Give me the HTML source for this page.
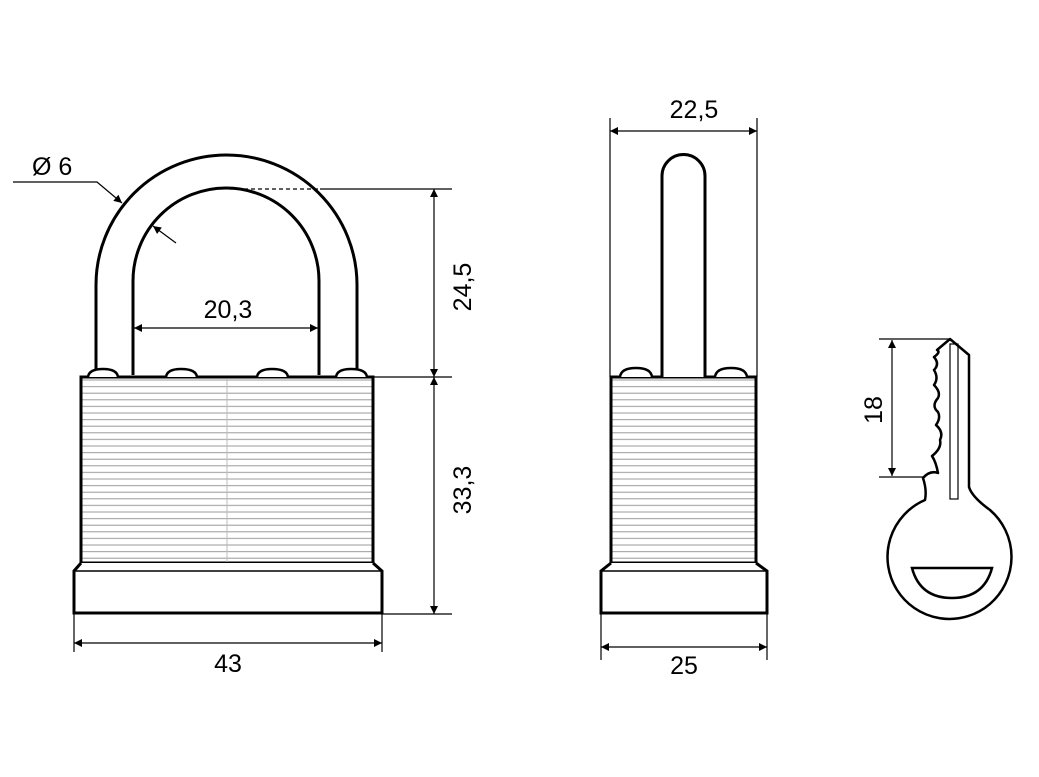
<!DOCTYPE html>
<html><head><meta charset="utf-8"><style>
html,body{margin:0;padding:0;background:#fff;}
svg{display:block}
text{font-family:"Liberation Sans",Arial,sans-serif;font-size:25px;fill:#000}
</style></head><body>
<svg width="1039" height="777" viewBox="0 0 1039 777" xmlns="http://www.w3.org/2000/svg">
<defs>
<pattern id="str" x="0" y="377" width="10" height="6.6" patternUnits="userSpaceOnUse">
<rect width="10" height="6.6" fill="#fff"/>
<line x1="0" y1="3" x2="10" y2="3" stroke="#9a9a9a" stroke-width="1"/>
</pattern>
<marker id="a" viewBox="0 0 10 10" refX="10" refY="5" markerWidth="12" markerHeight="8" markerUnits="userSpaceOnUse" orient="auto-start-reverse">
<path d="M0,0 L10,5 L0,10 z" fill="#000"/>
</marker>
</defs>

<rect x="81" y="377" width="292" height="186" fill="url(#str)" stroke="#000" stroke-width="3"/>
<line x1="227" y1="379" x2="227" y2="562" stroke="#bbb" stroke-width="1"/>
<path d="M81,563 L74,571 L74,613 L382,613 L382,571 L373,563" fill="#fff" stroke="#000" stroke-width="3"/>
<line x1="74" y1="571" x2="382" y2="571" stroke="#000" stroke-width="1.5"/>
<path d="M96,375 L96,285 A130.5,130 0 0 1 357,285 L357,375" fill="none" stroke="#000" stroke-width="3"/>
<path d="M133,375 L133,281 A93,93 0 0 1 319,281 L319,375" fill="none" stroke="#000" stroke-width="3"/>
<g fill="#fff" stroke="#000" stroke-width="2.5">
<path d="M88,377 Q89,369 103,369 Q117,369 118,377"/>
<path d="M166,377 Q167,369 181,369 Q196,369 197,377"/>
<path d="M257,377 Q258,369 272,369 Q287,369 288,377"/>
<path d="M336,377 Q337,369 351,369 Q366,369 367,377"/>
</g>
<g stroke="#000" stroke-width="1.2" fill="none">
<line x1="230" y1="189" x2="320" y2="189" stroke-dasharray="4,3"/>
<line x1="320" y1="189" x2="452" y2="189"/>
<line x1="373" y1="377" x2="452" y2="377"/>
<line x1="382" y1="614" x2="452" y2="614"/>
<line x1="434" y1="189" x2="434" y2="377" marker-start="url(#a)" marker-end="url(#a)"/>
<line x1="434" y1="377" x2="434" y2="614" marker-start="url(#a)" marker-end="url(#a)"/>
<line x1="74" y1="614" x2="74" y2="652"/>
<line x1="382" y1="614" x2="382" y2="652"/>
<line x1="74" y1="643" x2="382" y2="643" marker-start="url(#a)" marker-end="url(#a)"/>
<line x1="134" y1="328" x2="318" y2="328" marker-start="url(#a)" marker-end="url(#a)"/>
<polyline points="13,182 97,182 122,203" marker-end="url(#a)"/>
<line x1="176" y1="243" x2="153" y2="226" marker-end="url(#a)"/>
</g>
<text x="228" y="318" text-anchor="middle">20,3</text>
<text x="228" y="672" text-anchor="middle">43</text>
<text x="32" y="175">Ø 6</text>
<text transform="translate(471,287) rotate(-90)" text-anchor="middle">24,5</text>
<text transform="translate(471,490) rotate(-90)" text-anchor="middle">33,3</text>

<rect x="611" y="377" width="145" height="186" fill="url(#str)" stroke="#000" stroke-width="3"/>
<path d="M611,563 L601,571 L601,613 L767,613 L767,571 L756,563" fill="#fff" stroke="#000" stroke-width="3"/>
<line x1="601" y1="571" x2="767" y2="571" stroke="#000" stroke-width="1.5"/>
<path d="M662,377 L662,176 A21.5,21.5 0 0 1 705,176 L705,377" fill="#fff" stroke="#000" stroke-width="3"/>
<g fill="#fff" stroke="#000" stroke-width="2.5">
<path d="M620,377 Q621,368 636,368 Q651,368 652,377"/>
<path d="M715,377 Q716,368 731,368 Q746,368 747,377"/>
</g>
<g stroke="#000" stroke-width="1.2" fill="none">
<line x1="610" y1="118" x2="610" y2="377"/>
<line x1="757" y1="118" x2="757" y2="377"/>
<line x1="610" y1="131" x2="757" y2="131" marker-start="url(#a)" marker-end="url(#a)"/>
<line x1="601" y1="614" x2="601" y2="660"/>
<line x1="767" y1="614" x2="767" y2="660"/>
<line x1="601" y1="647" x2="767" y2="647" marker-start="url(#a)" marker-end="url(#a)"/>
</g>
<text x="694" y="118" text-anchor="middle">22,5</text>
<text x="684" y="674" text-anchor="middle">25</text>

<path d="M950,339 L969,355 L969,487 Q972,497 990,510 A62,62 0 1 1 925,500 Q927,490 923,478 Q930,470 938,473 Q936,462 932,456 Q942,448 940,440 Q944,432 936,425 Q941,418 938,412 Q931,406 938,398 Q941,392 934,385 Q939,378 934,370 Q940,364 934,357 Q941,352 937,350 Z" fill="#fff" stroke="#000" stroke-width="2.5" stroke-linejoin="round"/>
<rect x="950" y="344" width="8" height="155" fill="none" stroke="#000" stroke-width="1.2"/>
<path d="M912,568 L992,568 Q984,598 952,598 Q920,598 912,568 Z" fill="#fff" stroke="#000" stroke-width="2.5"/>
<g stroke="#000" stroke-width="1.2" fill="none">
<line x1="879" y1="339" x2="950" y2="339"/>
<line x1="879" y1="477" x2="925" y2="477"/>
<line x1="892" y1="340" x2="892" y2="476" marker-start="url(#a)" marker-end="url(#a)"/>
</g>
<text transform="translate(882,410) rotate(-90)" text-anchor="middle">18</text>
</svg>
</body></html>
